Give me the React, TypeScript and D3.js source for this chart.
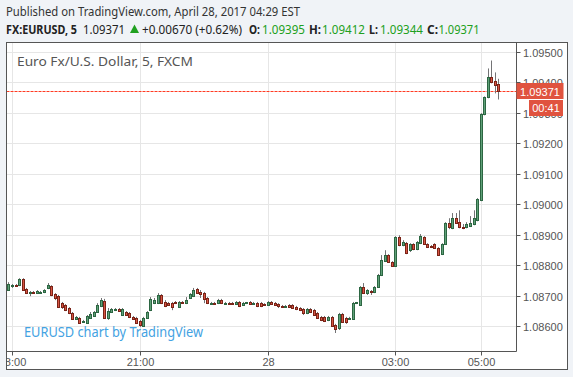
import React from "react";
import * as d3 from "d3";

const W = 573;
const H = 377;

// 5-minute EURUSD candles, first bar 17:55, last bar 05:25
const startTime = Date.UTC(2017, 3, 27, 17, 55);
const barMinutes = 5;

const opens = [
  1.08718, 1.08731, 1.08734, 1.08734, 1.08754, 1.08721, 1.08708, 1.08712, 1.08708, 1.08712,
  1.08712, 1.08725, 1.08731, 1.08705, 1.08698, 1.08675, 1.08669, 1.08659, 1.08643, 1.08623,
  1.08626, 1.08613, 1.0861, 1.08626, 1.08633, 1.08646, 1.08666, 1.08682, 1.08626, 1.08646,
  1.08652, 1.08656, 1.08636, 1.08646, 1.08643, 1.0863, 1.08626, 1.08616, 1.086, 1.08626,
  1.08652, 1.08675, 1.08675, 1.08702, 1.08679, 1.08675, 1.08675, 1.08679, 1.08662, 1.08679,
  1.08675, 1.08692, 1.08698, 1.08721, 1.08712, 1.08708, 1.08692, 1.08675, 1.08676, 1.08675,
  1.08685, 1.08675, 1.08676, 1.08675, 1.08672, 1.08679, 1.08669, 1.08675, 1.08679, 1.08672,
  1.08675, 1.08675, 1.08672, 1.08669, 1.08679, 1.08675, 1.08672, 1.08666, 1.08665, 1.08669,
  1.08669, 1.08662, 1.08659, 1.08656, 1.08643, 1.08656, 1.08652, 1.08643, 1.0863, 1.0863,
  1.0862, 1.0863, 1.08603, 1.08593, 1.08639, 1.08626, 1.08623, 1.08623, 1.08675, 1.08669,
  1.08728, 1.08708, 1.08715, 1.08712, 1.08728, 1.08767, 1.08813, 1.08833, 1.0881, 1.08797,
  1.08892, 1.08866, 1.08872, 1.08849, 1.08869, 1.08853, 1.08872, 1.08892, 1.08869, 1.08862,
  1.08869, 1.08856, 1.08836, 1.08869, 1.08938, 1.08921, 1.08954, 1.08941, 1.08925, 1.08925,
  1.08928, 1.08935, 1.08948, 1.09013, 1.09295, 1.09351, 1.09417, 1.09404, 1.09395,
];
const highs = [
  1.08744, 1.08738, 1.08738, 1.08757, 1.08757, 1.08725, 1.08715, 1.08715, 1.08718, 1.08715,
  1.08721, 1.08741, 1.08734, 1.08708, 1.08702, 1.08679, 1.08672, 1.08662, 1.08646, 1.08633,
  1.0863, 1.0862, 1.08636, 1.08646, 1.08649, 1.08675, 1.08692, 1.08689, 1.08659, 1.08659,
  1.08659, 1.08659, 1.08659, 1.08649, 1.08646, 1.08633, 1.0863, 1.0862, 1.0863, 1.08649,
  1.08695, 1.08692, 1.08708, 1.08705, 1.08685, 1.08679, 1.08679, 1.08682, 1.08682, 1.08682,
  1.08695, 1.08708, 1.08725, 1.08725, 1.08718, 1.08712, 1.08695, 1.08679, 1.08679, 1.08689,
  1.08689, 1.08679, 1.08679, 1.08679, 1.08682, 1.08682, 1.08679, 1.08679, 1.08682, 1.08679,
  1.08679, 1.08679, 1.08675, 1.08682, 1.08682, 1.08679, 1.08675, 1.08669, 1.08669, 1.08672,
  1.08672, 1.08666, 1.08662, 1.08659, 1.08659, 1.08659, 1.08656, 1.08646, 1.08633, 1.08633,
  1.08633, 1.08633, 1.08607, 1.08643, 1.08643, 1.0863, 1.0863, 1.08679, 1.08679, 1.08731,
  1.08741, 1.08721, 1.08718, 1.08731, 1.08771, 1.08833, 1.08849, 1.08836, 1.08813, 1.08895,
  1.08898, 1.08882, 1.08876, 1.08872, 1.08872, 1.08879, 1.08902, 1.08895, 1.08872, 1.08866,
  1.08872, 1.08859, 1.08872, 1.08941, 1.08954, 1.08971, 1.08971, 1.0898, 1.08935, 1.08941,
  1.08961, 1.0898, 1.0902, 1.09299, 1.09354, 1.09446, 1.09472, 1.09433, 1.09412,
];
const lows = [
  1.08715, 1.08725, 1.08728, 1.08731, 1.08715, 1.08705, 1.08698, 1.08708, 1.08705, 1.08708,
  1.08708, 1.08721, 1.08698, 1.08685, 1.08659, 1.08656, 1.08649, 1.08639, 1.0862, 1.0862,
  1.08607, 1.0861, 1.08607, 1.08623, 1.0863, 1.08643, 1.08662, 1.08623, 1.0862, 1.08643,
  1.08649, 1.08646, 1.08633, 1.08633, 1.08626, 1.0862, 1.08607, 1.08597, 1.08597, 1.08623,
  1.08649, 1.08672, 1.08672, 1.08672, 1.08662, 1.08666, 1.08652, 1.08672, 1.08659, 1.08675,
  1.08672, 1.08689, 1.08695, 1.08705, 1.08692, 1.08675, 1.08672, 1.08672, 1.08672, 1.08672,
  1.08672, 1.08672, 1.08672, 1.08669, 1.08669, 1.08662, 1.08666, 1.08672, 1.08669, 1.08669,
  1.08662, 1.08662, 1.08666, 1.08666, 1.08669, 1.08666, 1.08659, 1.08662, 1.08662, 1.08659,
  1.08656, 1.08652, 1.08649, 1.08636, 1.08639, 1.08643, 1.08633, 1.08623, 1.08616, 1.08613,
  1.08616, 1.08597, 1.08577, 1.08587, 1.0861, 1.08607, 1.0862, 1.0862, 1.08672, 1.08666,
  1.08705, 1.08702, 1.08702, 1.08708, 1.08725, 1.08764, 1.0881, 1.08807, 1.08794, 1.08794,
  1.08862, 1.08862, 1.08836, 1.08843, 1.08849, 1.08849, 1.08869, 1.08866, 1.08856, 1.08856,
  1.08853, 1.0883, 1.08833, 1.08866, 1.08918, 1.08918, 1.08935, 1.08921, 1.08918, 1.08921,
  1.08925, 1.08931, 1.08944, 1.0901, 1.09292, 1.09348, 1.09397, 1.09364, 1.09344,
];
const closes = [
  1.08738, 1.08734, 1.08731, 1.08754, 1.08718, 1.08708, 1.08712, 1.08711, 1.08715, 1.08713,
  1.08718, 1.08734, 1.08702, 1.08692, 1.08662, 1.08662, 1.08652, 1.08643, 1.08623, 1.0863,
  1.0861, 1.08616, 1.08633, 1.08639, 1.08646, 1.08669, 1.08685, 1.08626, 1.08649, 1.08656,
  1.08656, 1.08649, 1.08656, 1.08636, 1.0863, 1.08623, 1.0861, 1.08603, 1.08626, 1.08646,
  1.08689, 1.08685, 1.08702, 1.08675, 1.08666, 1.08669, 1.08662, 1.08675, 1.08679, 1.08678,
  1.08685, 1.08705, 1.08718, 1.08708, 1.08705, 1.08689, 1.08675, 1.08676, 1.08675, 1.08685,
  1.08675, 1.08676, 1.08675, 1.08674, 1.08679, 1.08666, 1.08675, 1.08678, 1.08672, 1.08674,
  1.08666, 1.08666, 1.08671, 1.08679, 1.08672, 1.08669, 1.08666, 1.08665, 1.08666, 1.08664,
  1.08659, 1.08656, 1.08652, 1.08643, 1.08656, 1.08646, 1.08636, 1.08626, 1.0862, 1.08616,
  1.0863, 1.086, 1.0859, 1.08639, 1.08613, 1.08613, 1.08626, 1.08675, 1.08678, 1.08728,
  1.08708, 1.08718, 1.08712, 1.08728, 1.08767, 1.08816, 1.08833, 1.0881, 1.08797, 1.08892,
  1.08866, 1.08876, 1.08839, 1.08869, 1.08853, 1.08876, 1.08895, 1.08869, 1.08859, 1.0886,
  1.08856, 1.08833, 1.08869, 1.08938, 1.08925, 1.08954, 1.08938, 1.08925, 1.08924, 1.08935,
  1.08938, 1.08954, 1.09017, 1.09295, 1.09351, 1.09417, 1.094, 1.0939, 1.09371,
];

const priceTicks = [1.086, 1.087, 1.088, 1.089, 1.09, 1.091, 1.092, 1.093, 1.094, 1.095];
const timeTickDates = [
  Date.UTC(2017, 3, 27, 18, 0),
  Date.UTC(2017, 3, 27, 21, 0),
  Date.UTC(2017, 3, 28, 0, 0),
  Date.UTC(2017, 3, 28, 3, 0),
  Date.UTC(2017, 3, 28, 5, 0),
];
const timeTickLabels = ["18:00", "21:00", "28", "03:00", "05:00"];

const lastPrice = 1.09371;
const countdown = "00:41";

const UP = "#5fa078";
const UP_BORDER = "#2c6642";
const DOWN = "#d75442";
const DOWN_BORDER = "#7a2418";
const WICK = "#737375";
const GREEN_TXT = "#20a020";
const LABEL_RED = "#e0533f";

// layout
const FL = 6.5, FT = 42.5, FR = 567.5, FB = 369.5; // outer frame
const PR = 516.5, PB = 351.5; // plot right / bottom

export default function App() {
  const x = d3
    .scaleUtc()
    .domain([new Date(timeTickDates[0]), new Date(timeTickDates[4])])
    .range([12, 480.6]);
  const y = d3.scaleLinear().domain([1.086, 1.095]).range([326, 52]);

  const candles = opens.map((o, i) => ({
    t: new Date(startTime + i * barMinutes * 60000),
    o,
    h: highs[i],
    l: lows[i],
    c: closes[i],
  }));

  const font = "'Liberation Sans', Arial, sans-serif";
  const lastY = Math.round(y(lastPrice)) + 0.5;

  return (
    <svg width={W} height={H} style={{ display: "block", position: "absolute", left: 0, top: 0 }}>
      <defs>
        <clipPath id="plot">
          <rect x={FL + 0.5} y={FT + 0.5} width={PR - FL - 1} height={PB - FT - 1} />
        </clipPath>
        <clipPath id="taxis">
          <rect x={FL + 0.5} y={PB} width={PR - FL} height={FB - PB} />
        </clipPath>
      </defs>
      <rect x={0} y={0} width={W} height={H} fill="#f0f3f7" />

      {/* header */}
      <text x={6} y={16} fontFamily="'Noto Sans', sans-serif" fontSize={12.5} fill="#333" textLength={294} lengthAdjust="spacingAndGlyphs">
        Published on TradingView.com, April 28, 2017 04:29 EST
      </text>
      <g fontFamily="'Noto Sans', sans-serif" fontSize={12.5}>
        <text x={6} y={33.5} fontWeight="bold" fill="#222" textLength={71} lengthAdjust="spacingAndGlyphs">FX:EURUSD, 5</text>
        <text x={83} y={33.5} fill="#222" textLength={42} lengthAdjust="spacingAndGlyphs">1.09371</text>
        <path d="M130,33 L134.5,24.5 L139,33 Z" fill={GREEN_TXT} />
        <text x={142} y={33.5} fill="#222" textLength={100} lengthAdjust="spacingAndGlyphs">+0.00670 (+0.62%)</text>
        <text x={249} y={33.5} fontWeight="bold" fill="#222" textLength={11} lengthAdjust="spacingAndGlyphs">O:</text>
        <text x={262} y={33.5} fill={GREEN_TXT} textLength={43} lengthAdjust="spacingAndGlyphs">1.09395</text>
        <text x={309} y={33.5} fontWeight="bold" fill="#222" textLength={12} lengthAdjust="spacingAndGlyphs">H:</text>
        <text x={322} y={33.5} fill={GREEN_TXT} textLength={43} lengthAdjust="spacingAndGlyphs">1.09412</text>
        <text x={369} y={33.5} fontWeight="bold" fill="#222" textLength={9} lengthAdjust="spacingAndGlyphs">L:</text>
        <text x={380} y={33.5} fill={GREEN_TXT} textLength={43} lengthAdjust="spacingAndGlyphs">1.09344</text>
        <text x={427} y={33.5} fontWeight="bold" fill="#222" textLength={11} lengthAdjust="spacingAndGlyphs">C:</text>
        <text x={438.5} y={33.5} fill={GREEN_TXT} textLength={41} lengthAdjust="spacingAndGlyphs">1.09371</text>
      </g>

      {/* panel */}
      <rect x={FL} y={FT} width={FR - FL} height={FB - FT} fill="#fff" />

      {/* grid */}
      <g stroke="#e6e6e6" strokeWidth={1} clipPath="url(#plot)">
        {priceTicks.map((p) => (
          <line key={p} x1={FL} x2={PR} y1={Math.round(y(p)) + 0.5} y2={Math.round(y(p)) + 0.5} />
        ))}
        {timeTickDates.map((t) => (
          <line key={t} x1={Math.round(x(new Date(t))) + 0.5} x2={Math.round(x(new Date(t))) + 0.5} y1={FT} y2={PB} />
        ))}
      </g>

      {/* legend text */}
      <text x={17} y={66} fontFamily="'Noto Sans', sans-serif" fontSize={12.5} fill="#555" textLength={176} lengthAdjust="spacingAndGlyphs">
        Euro Fx/U.S. Dollar, 5, FXCM
      </text>
      <text x={24} y={337} fontFamily="'Noto Sans', sans-serif" fontSize={14.5} fill="#43a2e2" textLength={179} lengthAdjust="spacingAndGlyphs">
        EURUSD chart by TradingView
      </text>

      {/* candles */}
      <g clipPath="url(#plot)">
        <line x1={FL} x2={PR} y1={lastY} y2={lastY} stroke="#ff3b22" strokeWidth={1} strokeDasharray="3,1" />
        {candles.map((d, i) => {
          const cx = Math.round(x(d.t));
          const up = d.c >= d.o;
          const top = Math.round(y(Math.max(d.o, d.c)));
          const bot = Math.round(y(Math.min(d.o, d.c)));
          const hgt = Math.max(1, bot - top);
          return (
            <g key={i}>
              <line x1={cx + 0.5} x2={cx + 0.5} y1={y(d.h)} y2={y(d.l)} stroke={WICK} strokeWidth={1} />
              <rect
                x={cx - 0.5}
                y={top + 0.5}
                width={2}
                height={hgt}
                fill={up ? UP : DOWN}
                stroke={up ? UP_BORDER : DOWN_BORDER}
                strokeWidth={1}
              />
            </g>
          );
        })}
      </g>

      {/* frame lines */}
      <rect x={FL} y={FT} width={FR - FL} height={FB - FT} fill="none" stroke="#555" strokeWidth={1} />
      <line x1={PR} x2={PR} y1={FT} y2={PB} stroke="#555" />
      <line x1={FL} x2={PR} y1={PB} y2={PB} stroke="#555" />

      {/* price axis */}
      <g fontFamily={font} fontSize={11} fill="#555">
        {priceTicks.map((p) => {
          const py = Math.round(y(p)) + 0.5;
          return (
            <g key={p}>
              <line x1={PR} x2={PR + 4} y1={py} y2={py} stroke="#555" />
              <text x={523} y={py + 4}>{d3.format(".5f")(p)}</text>
            </g>
          );
        })}
      </g>

      {/* time axis */}
      <g fontFamily={font} fontSize={11} fill="#555" clipPath="url(#taxis)">
        {timeTickDates.map((t, i) => {
          const tx = Math.round(x(new Date(t))) + 0.5;
          return (
            <g key={t}>
              <line x1={tx} x2={tx} y1={PB} y2={PB + 4} stroke="#555" />
              <text x={tx} y={366} textAnchor="middle">{timeTickLabels[i]}</text>
            </g>
          );
        })}
      </g>

      {/* last price labels */}
      <rect x={PR} y={lastY - 8.5} width={47} height={16} fill={LABEL_RED} />
      <text x={540} y={lastY + 4} textAnchor="middle" fontFamily={font} fontSize={11} fill="#fff">
        {d3.format(".5f")(lastPrice)}
      </text>
      <rect x={529} y={100} width={34} height={16} fill={LABEL_RED} />
      <text x={546} y={112} textAnchor="middle" fontFamily={font} fontSize={11} fill="#fff">
        {countdown}
      </text>
    </svg>
  );
}
